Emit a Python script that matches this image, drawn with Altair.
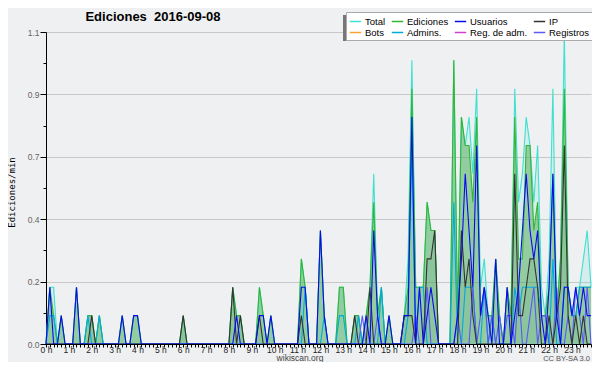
import altair as alt
import pandas as pd

# counts per 10-minute bin (value shown = count / 10 edits per minute), 144 bins
total = [0,2,2,0,1,0,0,0,2,0,0,1,
         1,0,1,0,0,0,0,0,1,0,0,1,
         1,0,0,0,0,0,0,0,0,0,0,0,
         1,0,0,0,0,0,0,0,0,0,0,0,
         0,2,1,1,0,0,0,0,2,1,0,1,
         0,0,0,0,0,0,0,3,2,0,0,0,
         4,1,0,0,0,2,2,0,0,1,1,0,
         1,2,6,1,2,0,1,0,0,0,1,3,
         10,2,2,2,5,4,4,0,0,0,0,10,
         1,8,7,8,6,9,2,3,1,1,3,1,
         0,2,1,9,5,6,8,7,5,7,2,1,
         3,9,1,3,11,2,1,2,2,3,4,2]
ediciones = [0,2,1,0,1,0,0,0,2,0,0,1,
             1,0,1,0,0,0,0,0,1,0,0,1,
             1,0,0,0,0,0,0,0,0,0,0,0,
             1,0,0,0,0,0,0,0,0,0,0,0,
             0,2,1,1,0,0,0,0,2,1,0,1,
             0,0,0,0,0,0,0,3,2,0,0,0,
             4,1,0,0,0,2,2,0,0,1,1,0,
             1,2,5,1,2,0,1,0,0,0,1,2,
             9,2,2,2,5,4,4,0,0,0,0,10,
             1,8,7,7,5,8,1,2,1,1,3,1,
             0,2,1,8,3,3,7,7,4,5,1,1,
             2,6,1,3,9,2,1,1,2,2,2,2]
usuarios = [0,2,0,0,1,0,0,0,2,0,0,0,
            0,0,0,0,0,0,0,0,1,0,0,1,
            1,0,0,0,0,0,0,0,0,0,0,0,
            0,0,0,0,0,0,0,0,0,0,0,0,
            0,0,1,0,0,0,0,0,1,1,0,1,
            0,0,0,0,0,0,0,2,2,0,0,0,
            4,1,0,0,0,0,0,0,0,0,0,0,
            1,0,4,1,0,0,1,0,0,0,1,1,
            8,0,2,0,1,2,1,0,0,0,0,0,
            1,3,6,4,2,7,1,2,1,0,3,0,
            0,2,0,1,2,4,6,4,3,4,1,0,
            2,6,1,0,2,2,1,2,1,2,1,1]
ip = [0,0,0,0,0,0,0,0,0,0,0,0,
      1,0,0,0,0,0,0,0,0,0,0,0,
      0,0,0,0,0,0,0,0,0,0,0,0,
      1,0,0,0,0,0,0,0,0,0,0,0,
      0,2,0,1,0,0,0,0,1,0,0,0,
      0,0,0,0,0,0,0,1,0,0,0,0,
      0,0,0,0,0,0,0,0,0,1,0,0,
      0,2,0,0,0,0,0,0,0,0,1,1,
      1,0,0,0,3,3,4,0,0,0,0,0,
      0,4,2,3,1,0,0,0,0,0,0,0,
      0,0,0,6,1,1,2,3,3,2,0,0,
      1,0,1,2,7,1,0,1,0,1,0,0]
admins = [0,1,1,0,0,0,0,0,0,0,0,1,
          0,0,1,0,0,0,0,0,0,0,0,0,
          0,0,0,0,0,0,0,0,0,0,0,0,
          0,0,0,0,0,0,0,0,0,0,0,0,
          0,0,0,0,0,0,0,0,0,0,0,0,
          0,0,0,0,0,0,0,0,2,0,0,0,
          0,1,0,0,0,1,1,0,0,0,1,0,
          0,0,0,0,2,0,0,0,0,0,0,1,
          7,0,2,2,0,0,0,0,0,0,0,5,
          0,0,2,2,2,0,0,2,0,1,0,0,
          0,0,0,2,1,2,2,2,2,2,1,1,
          0,3,0,0,2,2,1,1,2,2,2,2]
registros = [0,0,0,0,0,0,0,0,0,0,0,0,
             0,0,0,0,0,0,0,0,0,0,0,0,
             0,0,0,0,0,0,0,0,0,0,0,0,
             0,0,0,0,0,0,0,0,0,0,0,0,
             0,0,0,0,0,0,0,0,0,0,0,0,
             0,0,0,0,0,0,0,0,0,0,0,0,
             0,0,0,0,0,0,0,0,0,0,0,1,
             0,0,0,1,0,0,0,0,0,0,0,0,
             0,1,0,0,2,0,0,0,0,0,0,0,
             1,0,0,0,2,0,1,2,0,1,0,1,
             0,1,1,0,2,0,0,1,2,0,1,1,
             0,0,2,0,0,1,0,2,1,0,2,0]

# legend order (filled column by column, two rows)
series_names = ["Total", "Bots", "Ediciones", "Admins.", "Usuarios", "Reg. de adm.", "IP", "Registros"]
series_colors = ["#40e0d0", "#ffa030", "#33b533", "#00aadd", "#0a0af0", "#d040d0", "#333333", "#5a5af5"]

counts = {"Total": total, "Ediciones": ediciones, "Usuarios": usuarios,
          "IP": ip, "Admins.": admins, "Registros": registros}

rows = []
for name, vals in counts.items():
    for i, c in enumerate(vals):
        rows.append({"t": i * 10, "series": name, "v": c / 10})
df = pd.DataFrame(rows)

x_ticks = list(range(0, 1440, 10))
y_ticks = [round(0.11 * k, 2) for k in range(11)]
even = "round(datum.value / 0.11) % 2 == 0"

x_enc = alt.X("t:Q", scale=alt.Scale(domain=[0, 1430], nice=False, zero=False),
              axis=alt.Axis(values=x_ticks, title=None,
                            labelExpr="datum.value % 60 == 0 ? (datum.value / 60) + ' h' : ''",
                            labelOverlap=False, labelFlush=False, labelBound=False,
                            tickSize=3, tickColor="black", domainColor="black",
                            labelFont="Liberation Sans", labelFontSize=8.5, labelColor="#222222",
                            labelPadding=-2, grid=False, zindex=1))
y_enc = alt.Y("v:Q", scale=alt.Scale(domain=[0, 1.1], nice=False),
              axis=alt.Axis(values=y_ticks, title="Ediciones/min",
                            labelExpr=even + " ? format(datum.value, '.1f') : ''",
                            tickSize={"condition": {"test": even, "value": 6}, "value": 3},
                            tickColor="black", domainColor="black",
                            grid=True, gridColor="#c8c8c8",
                            gridOpacity={"condition": {"test": even, "value": 1}, "value": 0},
                            labelFont="Liberation Sans", labelFontSize=8.5, labelColor="#666666",
                            labelPadding=1,
                            titleFont="DejaVu Sans Mono", titleFontSize=9, titleFontWeight="normal",
                            titleColor="black", titleX=-32, titleY=160, titleAngle=-90,
                            titleAlign="center", titleBaseline="alphabetic"))

color_enc = alt.Color("series:N",
                      scale=alt.Scale(domain=series_names, range=series_colors),
                      legend=alt.Legend(orient="none", legendX=300, legendY=-20, columns=4,
                                        title=None, symbolType="stroke", symbolSize=130,
                                        symbolStrokeWidth=1.5, labelFont="Liberation Sans",
                                        labelFontSize=9.5, labelColor="black", labelOffset=3,
                                        fillColor="white", strokeColor="#aaaaaa", padding=3,
                                        columnPadding=2, rowPadding=0, labelLimit=0,
                                        gridAlign="each"))

base = alt.Chart(df).encode(x=x_enc, y=y_enc)

shadow = alt.Chart(pd.DataFrame({"a": [0]})).mark_rect(color="#777777").encode(
    x=alt.value(297), x2=alt.value(542), y=alt.value(-17), y2=alt.value(9))

area_total = base.transform_filter(alt.datum.series == "Total").mark_area(
    color="#40e0d0", opacity=0.15)
area_ed = base.transform_filter(alt.datum.series == "Ediciones").mark_area(
    color="#3ca03c", opacity=0.42)
area_ip = base.transform_filter(alt.datum.series == "IP").mark_area(
    color="#306060", opacity=0.07)

line_layers = []
for name in ["Total", "Ediciones", "Admins.", "Registros", "IP", "Usuarios"]:
    line_layers.append(
        base.transform_filter(alt.datum.series == name)
        .mark_line(strokeWidth=1.1)
        .encode(color=color_enc)
    )

txt = pd.DataFrame({"a": [0]})
title = alt.Chart(txt).mark_text(text="Ediciones\u00a0 2016-09-08", font="Liberation Sans",
                                 fontSize=13, fontWeight="bold", align="center",
                                 baseline="alphabetic", color="black").encode(
    x=alt.value(107), y=alt.value(-11))
site = alt.Chart(txt).mark_text(text="wikiscan.org", font="Liberation Sans", fontSize=8.5,
                                align="center", baseline="alphabetic", color="#444444").encode(
    x=alt.value(254), y=alt.value(329))
lic = alt.Chart(txt).mark_text(text="CC BY-SA 3.0", font="Liberation Sans", fontSize=7.5,
                               align="right", baseline="alphabetic", color="#555555").encode(
    x=alt.value(544), y=alt.value(328.5))

chart = alt.layer(area_total, area_ed, area_ip, *line_layers, shadow, title, site, lic).properties(
    width=545, height=312,
    autosize=alt.AutoSizeParams(type="none"),
    padding={"left": 38, "top": 24, "right": 1, "bottom": 18},
    background="#eff0f1",
).configure_view(stroke=None)

chart.save("out.html", embed_options={"renderer": "svg", "actions": False})
